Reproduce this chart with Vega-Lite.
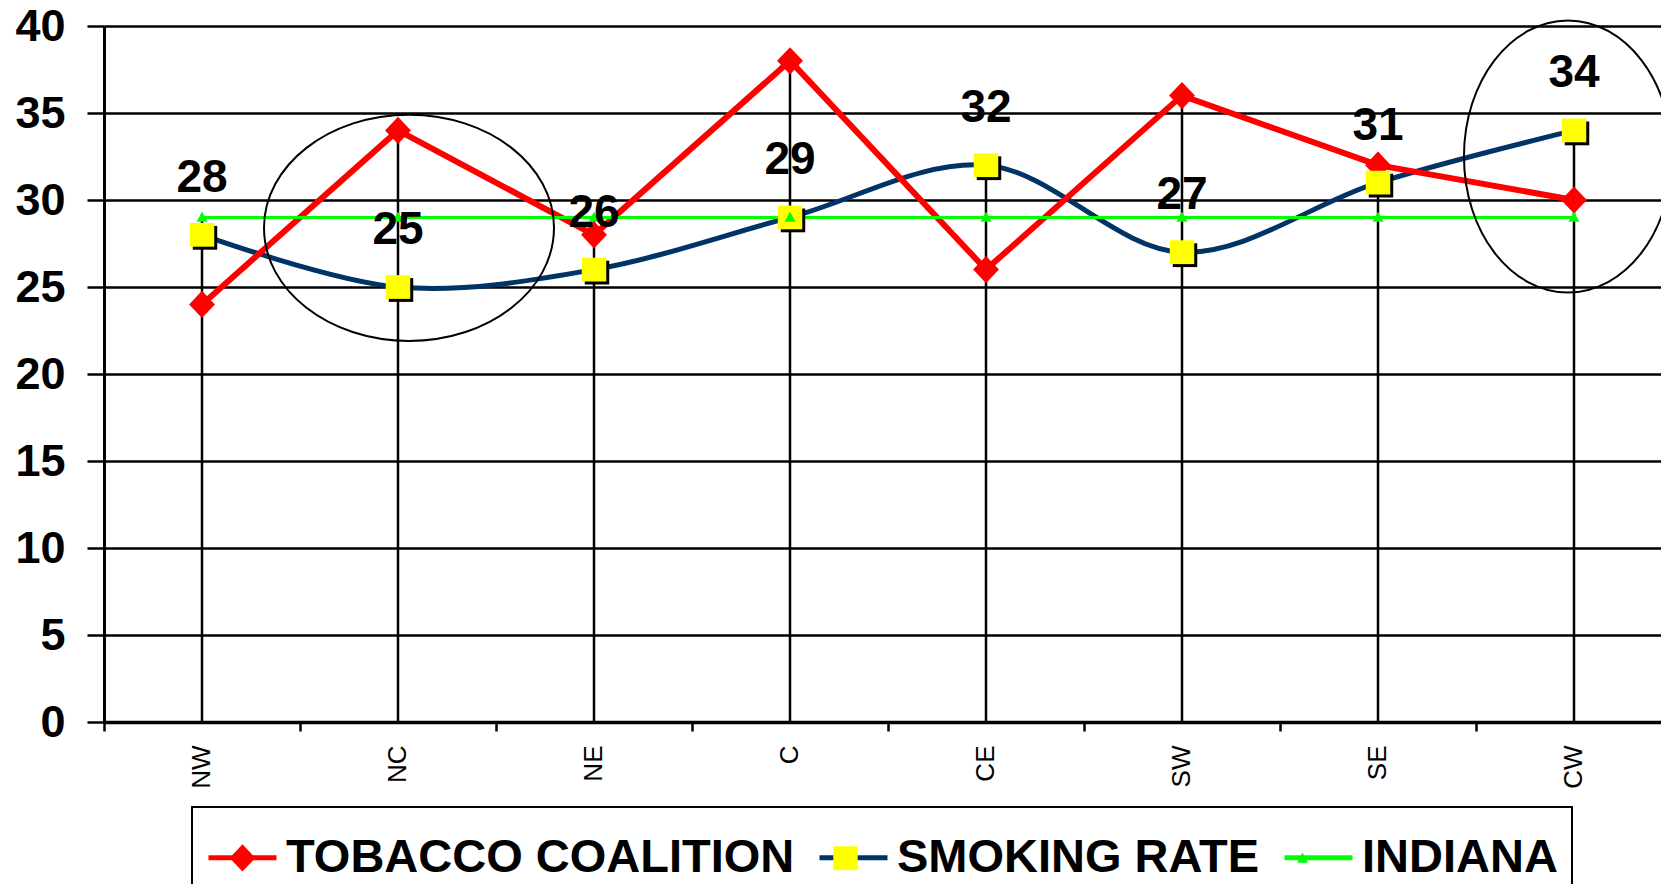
{
  "$schema": "https://vega.github.io/schema/vega-lite/v6.json",
  "width": 1568,
  "height": 696,
  "autosize": "none",
  "padding": {"left": 104, "top": 26, "right": 0, "bottom": 162},
  "background": "white",
  "config": {"view": {"stroke": null}, "font": "Liberation Sans"},
  "datasets": {
    "rates": [
      {"region": "NW", "series": "TOBACCO COALITION", "value": 24},
      {"region": "NC", "series": "TOBACCO COALITION", "value": 34},
      {"region": "NE", "series": "TOBACCO COALITION", "value": 28},
      {"region": "C", "series": "TOBACCO COALITION", "value": 38},
      {"region": "CE", "series": "TOBACCO COALITION", "value": 26},
      {"region": "SW", "series": "TOBACCO COALITION", "value": 36},
      {"region": "SE", "series": "TOBACCO COALITION", "value": 32},
      {"region": "CW", "series": "TOBACCO COALITION", "value": 30},
      {"region": "NW", "series": "SMOKING RATE", "value": 28},
      {"region": "NC", "series": "SMOKING RATE", "value": 25},
      {"region": "NE", "series": "SMOKING RATE", "value": 26},
      {"region": "C", "series": "SMOKING RATE", "value": 29},
      {"region": "CE", "series": "SMOKING RATE", "value": 32},
      {"region": "SW", "series": "SMOKING RATE", "value": 27},
      {"region": "SE", "series": "SMOKING RATE", "value": 31},
      {"region": "CW", "series": "SMOKING RATE", "value": 34},
      {"region": "NW", "series": "INDIANA", "value": 29},
      {"region": "NC", "series": "INDIANA", "value": 29},
      {"region": "NE", "series": "INDIANA", "value": 29},
      {"region": "C", "series": "INDIANA", "value": 29},
      {"region": "CE", "series": "INDIANA", "value": 29},
      {"region": "SW", "series": "INDIANA", "value": 29},
      {"region": "SE", "series": "INDIANA", "value": 29},
      {"region": "CW", "series": "INDIANA", "value": 29}
    ],
    "notes": [
      {"region": "NC", "value": 28.4},
      {"region": "CW", "value": 32.5}
    ]
  },
  "data": {"name": "rates"},
  "resolve": {"axis": {"x": "independent"}},
  "layer": [
    {
      "mark": {"type": "rule", "color": "black", "strokeWidth": 2.5},
      "encoding": {
        "x": {
          "field": "region", "type": "nominal",
          "scale": {"type": "band", "domain": ["NW", "NC", "NE", "C", "CE", "SW", "SE", "CW"], "paddingInner": 0, "paddingOuter": 0},
          "axis": {"orient": "bottom", "bandPosition": 0, "labels": false, "ticks": true, "tickSize": 9, "tickWidth": 2.5, "tickColor": "black", "domain": true, "domainColor": "black", "domainWidth": 3.5, "grid": false, "title": null}
        },
        "y": {
          "field": "value", "type": "quantitative", "aggregate": "max",
          "scale": {"domain": [0, 40], "nice": false},
          "axis": {"values": [0, 5, 10, 15, 20, 25, 30, 35, 40], "grid": true, "gridColor": "black", "gridWidth": 2.5, "gridOpacity": 1, "domain": true, "domainColor": "black", "domainWidth": 3, "ticks": true, "tickColor": "black", "tickSize": 17, "tickWidth": 2.5, "labelFont": "Liberation Sans", "labelFontWeight": "bold", "labelFontSize": 45, "labelColor": "black", "labelPadding": 22, "title": null}
        },
        "y2": {"datum": 0}
      }
    },
    {
      "transform": [{"filter": "datum.series === 'SMOKING RATE'"}],
      "mark": {"type": "line", "strokeWidth": 5, "interpolate": "catmull-rom"},
      "encoding": {
        "x": {"field": "region", "type": "nominal", "axis": null},
        "y": {"field": "value", "type": "quantitative"},
        "color": {
          "field": "series", "type": "nominal", "sort": "descending",
          "scale": {"range": ["#FF0000", "#003366", "#00FF00"]},
          "legend": {"orient": "none", "legendX": 88, "legendY": 781, "direction": "horizontal", "columns": 3, "title": null, "symbolType": "M-1,0H1", "symbolSize": 4624, "symbolStrokeWidth": 5, "labelFont": "Liberation Sans", "labelFontWeight": "bold", "labelFontSize": 47, "labelColor": "black", "labelOffset": 7, "columnPadding": 14, "padding": 14, "labelLimit": 1000, "strokeColor": "black",
            "encode": {"legend": {"update": {"strokeWidth": {"value": 2}}}, "symbols": {"update": {"size": {"value": 4624}, "strokeWidth": {"value": 5}}}}}
        }
      }
    },
    {
      "transform": [{"filter": "datum.series === 'TOBACCO COALITION'"}],
      "mark": {"type": "line", "strokeWidth": 6},
      "encoding": {
        "x": {"field": "region", "type": "nominal", "axis": {"orient": "bottom", "labels": true, "ticks": false, "tickSize": 0, "domain": false, "grid": false, "labelAngle": 270, "labelFont": "Liberation Sans", "labelFontSize": 26, "labelColor": "black", "labelPadding": 23, "title": null}},
        "y": {"field": "value", "type": "quantitative"},
        "color": {"field": "series", "type": "nominal", "sort": "descending"}
      }
    },
    {
      "transform": [{"filter": "datum.series === 'INDIANA'"}],
      "mark": {"type": "line", "strokeWidth": 3},
      "encoding": {
        "x": {"field": "region", "type": "nominal", "axis": null},
        "y": {"field": "value", "type": "quantitative"},
        "color": {"field": "series", "type": "nominal", "sort": "descending"}
      }
    },
    {
      "transform": [{"filter": "datum.series === 'SMOKING RATE'"}],
      "mark": {"type": "point", "filled": true, "size": 4624, "opacity": 1, "color": "black", "shape": "M-0.36,-0.35H0.36V0.35H-0.36Z", "xOffset": 3, "yOffset": 3},
      "encoding": {
        "x": {"field": "region", "type": "nominal", "axis": null},
        "y": {"field": "value", "type": "quantitative"}
      }
    },
    {
      "mark": {"type": "point", "filled": true, "size": 4624, "opacity": 1, "strokeWidth": 0},
      "encoding": {
        "x": {"field": "region", "type": "nominal", "axis": null},
        "y": {"field": "value", "type": "quantitative"},
        "fill": {
          "field": "series", "type": "nominal",
          "scale": {"domain": ["TOBACCO COALITION", "SMOKING RATE", "INDIANA"], "range": ["#FF0000", "#FFFF00", "#00FF00"]},
          "legend": {"orient": "none", "legendX": 88, "legendY": 781, "direction": "horizontal", "columns": 3, "title": null, "symbolSize": 4624, "symbolStrokeWidth": 5, "symbolStrokeColor": "transparent", "labelFont": "Liberation Sans", "labelFontWeight": "bold", "labelFontSize": 47, "labelColor": "black", "labelOpacity": 0, "labelOffset": 7, "columnPadding": 14, "padding": 14, "labelLimit": 1000,
            "encode": {"symbols": {"update": {"size": {"value": 4624}, "strokeWidth": {"value": 5}}}}}
        },
        "shape": {
          "field": "series", "type": "nominal",
          "scale": {"domain": ["TOBACCO COALITION", "SMOKING RATE", "INDIANA"], "range": ["M0,-0.4L0.38,0L0,0.4L-0.38,0Z", "M-0.36,-0.35H0.36V0.35H-0.36Z", "M0,-0.17L0.16,0.13L-0.16,0.13Z"]},
          "legend": {"orient": "none", "legendX": 88, "legendY": 781, "direction": "horizontal", "columns": 3, "title": null, "symbolSize": 4624, "symbolStrokeWidth": 5, "symbolStrokeColor": "transparent", "labelFont": "Liberation Sans", "labelFontWeight": "bold", "labelFontSize": 47, "labelColor": "black", "labelOpacity": 0, "labelOffset": 7, "columnPadding": 14, "padding": 14, "labelLimit": 1000,
            "encode": {"symbols": {"update": {"size": {"value": 4624}, "strokeWidth": {"value": 5}}}}}
        }
      }
    },
    {
      "transform": [{"filter": "datum.series === 'SMOKING RATE'"}],
      "mark": {"type": "text", "font": "Liberation Sans", "fontWeight": "bold", "fontSize": 46, "color": "black", "baseline": "middle", "align": "center", "dy": -57},
      "encoding": {
        "x": {"field": "region", "type": "nominal", "axis": null},
        "y": {"field": "value", "type": "quantitative"},
        "text": {"field": "value", "type": "quantitative"}
      }
    },
    {
      "data": {"name": "notes"},
      "transform": [{"filter": "datum.region === 'NC'"}],
      "mark": {"type": "point", "filled": false, "size": 84100, "opacity": 1, "color": "black", "strokeWidth": 2, "xOffset": 11, "shape": "M-1,0C-1,-0.4308,-0.5523,-0.78,0,-0.78C0.5523,-0.78,1,-0.4308,1,0C1,0.4308,0.5523,0.78,0,0.78C-0.5523,0.78,-1,0.4308,-1,0Z"},
      "encoding": {
        "x": {"field": "region", "type": "nominal", "axis": null},
        "y": {"field": "value", "type": "quantitative"}
      }
    },
    {
      "data": {"name": "notes"},
      "transform": [{"filter": "datum.region === 'CW'"}],
      "mark": {"type": "point", "filled": false, "size": 73984, "opacity": 1, "color": "black", "strokeWidth": 2, "xOffset": -6, "shape": "M-0.765,0C-0.765,-0.5523,-0.4225,-1,0,-1C0.4225,-1,0.765,-0.5523,0.765,0C0.765,0.5523,0.4225,1,0,1C-0.4225,1,-0.765,0.5523,-0.765,0Z"},
      "encoding": {
        "x": {"field": "region", "type": "nominal", "axis": null},
        "y": {"field": "value", "type": "quantitative"}
      }
    }
  ]
}
